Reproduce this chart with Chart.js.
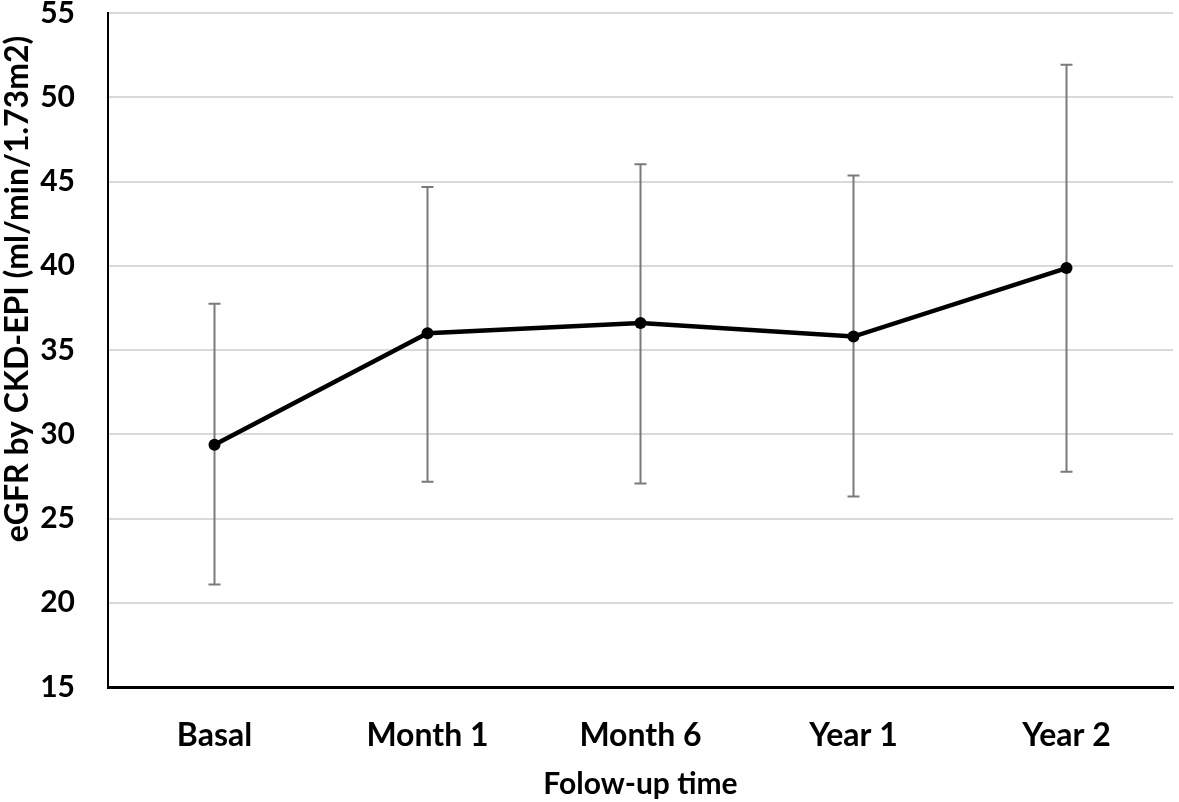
<!DOCTYPE html>
<html>
<head>
<meta charset="utf-8">
<script src="https://cdn.jsdelivr.net/npm/chart.js@4.4.1/dist/chart.umd.min.js"></script>
<style>
    html, body { margin: 0; padding: 0; background: #fff; }
    #wrap { width: 1179px; height: 802px; position: relative; }
</style>
</head>
<body>
<div id="wrap"><canvas id="egfr-chart"></canvas></div>
<script>
    // values
    const timepoints = ['Basal', 'Month 1', 'Month 6', 'Year 1', 'Year 2'];
    const egfrMean = [29.37, 35.99, 36.60, 35.80, 39.86];
    const egfrUpper = [37.74, 44.68, 46.02, 45.35, 51.93];
    const egfrLower = [21.09, 27.18, 27.07, 26.30, 27.78];
    const yTicks = [15, 20, 25, 30, 35, 40, 45, 50, 55];

    const yTitle = 'eGFR by CKD-EPI (ml/min/1.73m2)';
    const xTitle = 'Folow-up time';
    const fontFamily = 'Lato, "Open Sans", sans-serif';

    // vertical error bars with caps, drawn under the line
    const errorBars = {
        id: 'errorBars',
        beforeDatasetsDraw(chart) {
            const ctx = chart.ctx;
            const x = chart.scales.x, y = chart.scales.y;
            ctx.save();
            ctx.strokeStyle = '#7a7a7a';
            ctx.lineWidth = 2;
            timepoints.forEach((t, i) => {
                const px = x.getPixelForValue(i);
                const top = y.getPixelForValue(egfrUpper[i]);
                const bot = y.getPixelForValue(egfrLower[i]);
                ctx.beginPath();
                ctx.moveTo(px, top); ctx.lineTo(px, bot);
                ctx.moveTo(px - 6, top); ctx.lineTo(px + 6, top);
                ctx.moveTo(px - 6, bot); ctx.lineTo(px + 6, bot);
                ctx.stroke();
            });
            ctx.restore();
        },
        afterDraw(chart) {
            // rotated y title, placed like the original (not centred on the axis)
            const ctx = chart.ctx;
            ctx.save();
            ctx.translate(18, 289);
            ctx.rotate(-Math.PI / 2);
            ctx.font = 'bold 32px ' + fontFamily;
            ctx.fillStyle = '#000';
            ctx.textAlign = 'center';
            ctx.textBaseline = 'middle';
            ctx.fillText(yTitle, 0, 0);
            ctx.restore();
        }
    };

    const ctx = document.getElementById('egfr-chart').getContext('2d');
    new Chart(ctx, {
        type: 'line',
        data: {
            labels: timepoints,
            datasets: [{
                label: 'eGFR',
                data: egfrMean,
                borderColor: '#000',
                backgroundColor: '#000',
                borderWidth: 4.5,
                pointRadius: 6,
                pointBackgroundColor: '#000',
                pointBorderWidth: 0,
                tension: 0,
                fill: false
            }]
        },
        options: {
            responsive: true,
            maintainAspectRatio: false,
            animation: false,
            layout: { padding: { top: 13, right: 1, left: 0, bottom: 0 } },
            plugins: { legend: { display: false }, tooltip: { enabled: false } },
            scales: {
                x: {
                    offset: true,
                    grid: { display: false, drawTicks: false },
                    border: { color: '#000', width: 3 },
                    ticks: { color: '#000', padding: 29, font: { family: fontFamily, size: 32, weight: 'bold' } },
                    title: {
                        display: true, text: xTitle, color: '#000',
                        padding: { top: 0, bottom: 0 },
                        font: { family: fontFamily, size: 30, weight: 'bold' }
                    },
                    afterFit: s => { s.height = 115; s.paddingLeft = 0; s.paddingRight = 0; }
                },
                y: {
                    min: 15,
                    max: 55,
                    afterBuildTicks: s => { s.ticks = yTicks.map(v => ({ value: v })); },
                    grid: { color: '#d9d9d9', lineWidth: 2, drawTicks: false },
                    border: { color: '#000', width: 2 },
                    ticks: { color: '#000', padding: 33, font: { family: fontFamily, size: 30, weight: 'bold' } },
                    afterFit: s => { s.width = 108; s.paddingTop = 0; s.paddingBottom = 0; }
                }
            }
        },
        plugins: [errorBars]
    });
</script>
</body>
</html>
